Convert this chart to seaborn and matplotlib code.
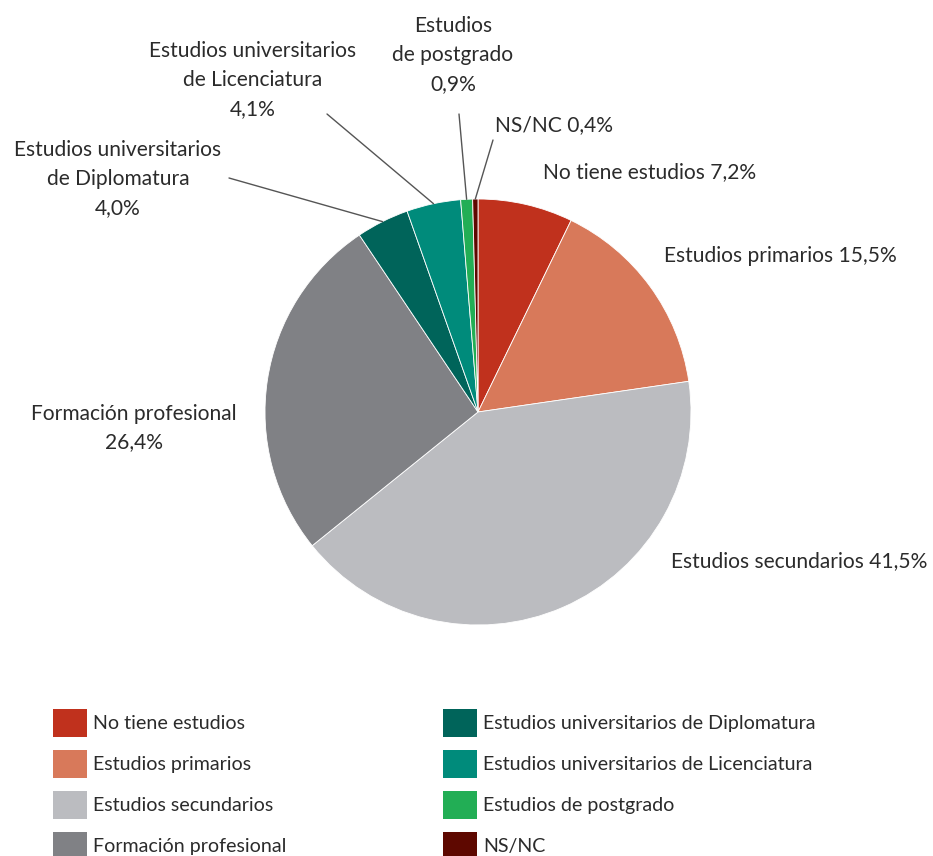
import numpy as np
import matplotlib
matplotlib.use("Agg")
import matplotlib.pyplot as plt
import seaborn as sns

categories = ["No tiene estudios", "Estudios primarios", "Estudios secundarios",
              "Formación profesional", "Estudios universitarios de Diplomatura",
              "Estudios universitarios de Licenciatura", "Estudios de postgrado", "NS/NC"]
values = [7.2, 15.5, 41.5, 26.4, 4.0, 4.1, 0.9, 0.4]
pie_labels = ["No tiene estudios 7,2%", "Estudios primarios 15,5%", "Estudios secundarios 41,5%",
              "Formación profesional\n26,4%", "Estudios universitarios\nde Diplomatura\n4,0%",
              "Estudios universitarios\nde Licenciatura\n4,1%", "Estudios\nde postgrado\n0,9%",
              "NS/NC 0,4%"]
colors = ["#C0311D", "#D8795A", "#BBBCC0", "#808185", "#00645A", "#008B7B", "#22AE55", "#5E0800"]

sns.set_theme(style="white")
plt.rcParams["font.family"] = ["Lato", "DejaVu Sans"]

W, H = 933, 856
fig = plt.figure(figsize=(W / 100, H / 100), dpi=100)
cx, cy, r = 478, 412, 213
ax = fig.add_axes([(cx - r) / W, (H - cy - r) / H, 2 * r / W, 2 * r / H])
palette = sns.color_palette(colors)
wedges, _ = ax.pie(values, colors=palette, startangle=90, counterclock=False, radius=1,
                   wedgeprops=dict(linewidth=0.6, edgecolor="white"))
ax.set_xlim(-1, 1)
ax.set_ylim(-1, 1)
ax.set_aspect("equal")
ax.axis("off")

def fp(x, y):
    return (x / W, 1 - y / H)

fs = 15.1
txtc = "#2b2b2b"
place = [
    ((543, 172), "left", None),
    ((664, 256), "left", None),
    ((671, 561), "left", None),
    ((134, 428), "center", None),
    ((118, 179), "center", (229, 178)),
    ((253, 80), "center", (327, 114)),
    ((453, 55), "center", (459, 114)),
    ((495, 125), "left", (493, 140)),
]
for w, lab, (pos, ha, lead) in zip(wedges, pie_labels, place):
    fig.text(*fp(*pos), lab, ha=ha, va="center", fontsize=fs, color=txtc,
             linespacing=1.55, multialignment="center")
    if lead is not None:
        ang = np.deg2rad((w.theta1 + w.theta2) / 2)
        ex, ey = np.cos(ang), np.sin(ang)
        x0, y0 = ax.transData.transform((ex, ey))
        disp = fig.transFigure.transform(fp(*lead))
        fig.add_artist(plt.Line2D([x0, disp[0]], [y0, disp[1]], transform=None,
                                  color="#555555", linewidth=1.0))

leg = fig.legend(wedges, categories, ncol=2, loc="upper left",
                 bbox_to_anchor=(53 / W, 1 - 709 / H), frameon=False,
                 fontsize=14.1, handlelength=1.73, handleheight=1.82,
                 handletextpad=0.31, labelspacing=0.66, columnspacing=8.0,
                 borderaxespad=0, borderpad=0)
for t in leg.get_texts():
    t.set_color(txtc)
for h in leg.legend_handles:
    h.set_edgecolor("none")

fig.savefig("out.png", dpi=100)
